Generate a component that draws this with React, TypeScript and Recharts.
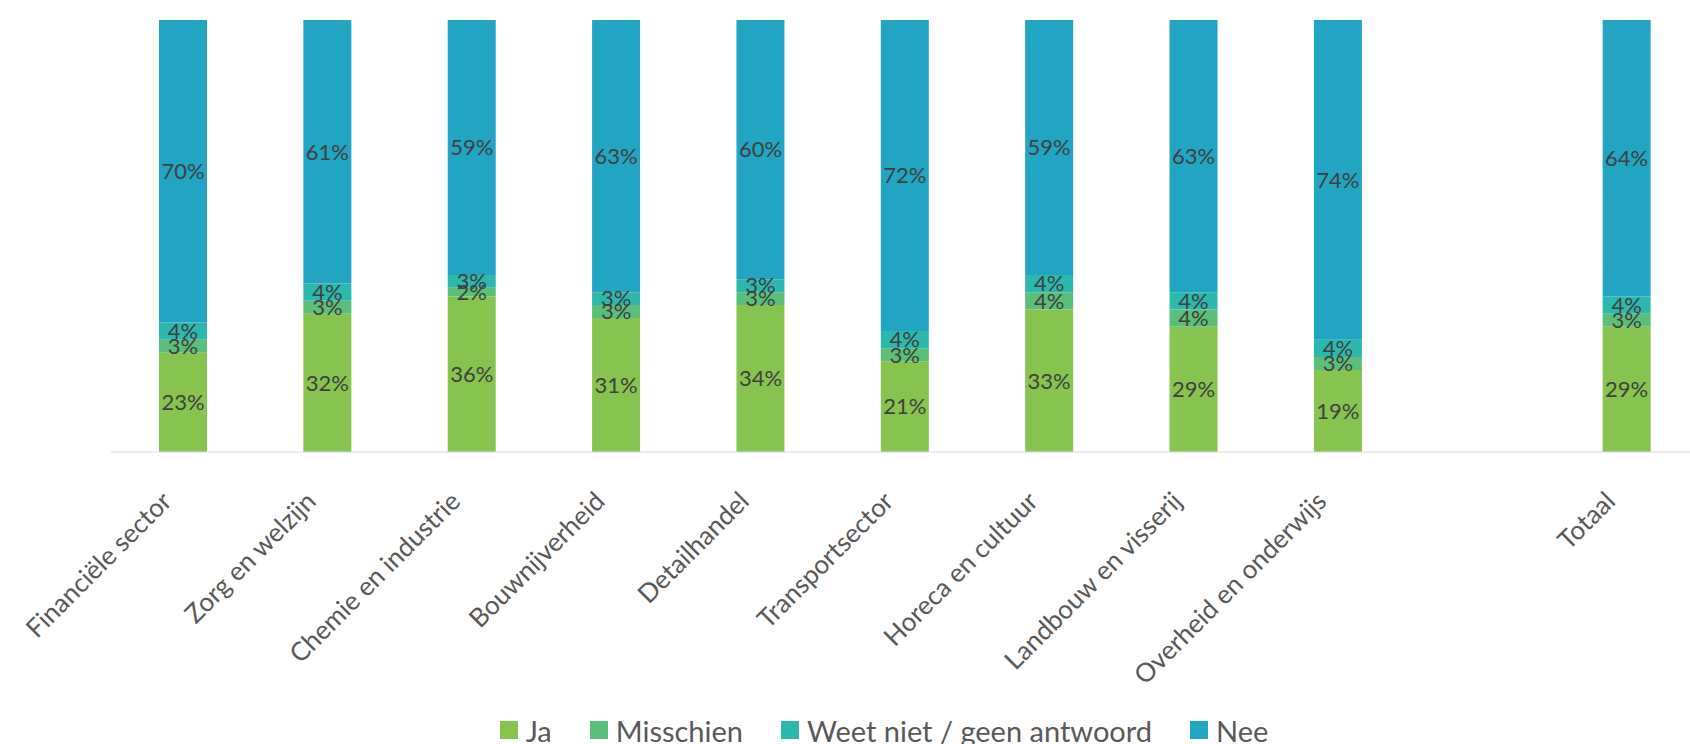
import { BarChart, Bar, XAxis, YAxis, LabelList, Legend } from "recharts";

const categories = [
  "Financiële sector",
  "Zorg en welzijn",
  "Chemie en industrie",
  "Bouwnijverheid",
  "Detailhandel",
  "Transportsector",
  "Horeca en cultuur",
  "Landbouw en visserij",
  "Overheid en onderwijs",
  "",
  "Totaal",
];

const ja = [23, 32, 36, 31, 34, 21, 33, 29, 19, null, 29];
const misschien = [3, 3, 2, 3, 3, 3, 4, 4, 3, null, 3];
const weetNiet = [4, 4, 3, 3, 3, 4, 4, 4, 4, null, 4];
const nee = [70, 61, 59, 63, 60, 72, 59, 63, 74, null, 64];

const SERIES = [
  { key: "ja", name: "Ja", color: "#86c44f" },
  { key: "misschien", name: "Misschien", color: "#5bbf7a" },
  { key: "weetNiet", name: "Weet niet / geen antwoord", color: "#2db8ad" },
  { key: "nee", name: "Nee", color: "#22a5c2" },
];

const data = categories.map((name, i) => ({
  name,
  ja: ja[i],
  misschien: misschien[i],
  weetNiet: weetNiet[i],
  nee: nee[i],
}));

const CHART_W = 1768;
const CHART_H = 760;
const FONT = "Lato, 'Open Sans', sans-serif";

const AngledTick = ({ x, y, payload }: any) => {
  const tx = x - 10;
  const ty = y + 43;
  return (
    <text
      x={tx}
      y={ty}
      transform={`rotate(-45, ${tx}, ${ty})`}
      textAnchor="end"
      fontSize={26}
      fontFamily={FONT}
      fill="#595959"
    >
      {payload.value}
    </text>
  );
};

const renderLegend = () => (
  <div
    style={{
      display: "flex",
      justifyContent: "center",
      alignItems: "center",
      height: 40,
      fontFamily: FONT,
      fontSize: 29,
      color: "#595959",
    }}
  >
    {SERIES.map(s => (
      <span key={s.key} style={{ display: "flex", alignItems: "center", margin: "0 19px" }}>
        <span style={{ width: 18, height: 18, background: s.color, marginRight: 8 }} />
        {s.name}
      </span>
    ))}
  </div>
);

const pct = (v: any) => (v == null ? "" : `${v}%`);

export default function App() {
  return (
    <div
      style={{
        position: "fixed",
        top: 0,
        left: 0,
        width: 1690,
        height: 744,
        overflow: "hidden",
        background: "#fff",
      }}
    >
      <BarChart
        width={CHART_W}
        height={CHART_H}
        data={data}
        margin={{ top: 20, right: 69, left: 111, bottom: 10 }}
        barSize={48}
      >
        <XAxis
          dataKey="name"
          interval={0}
          tickLine={false}
          axisLine={{ stroke: "#d9d9d9" }}
          height={258}
          tick={<AngledTick />}
        />
        <YAxis hide domain={[0, 100]} />
        {SERIES.map(s => (
          <Bar
            key={s.key}
            dataKey={s.key}
            name={s.name}
            stackId="a"
            fill={s.color}
            isAnimationActive={false}
          >
            <LabelList
              dataKey={s.key}
              position="center"
              formatter={pct}
              fill="#404040"
              fontSize={22}
              fontFamily={FONT}
            />
          </Bar>
        ))}
        <Legend
          verticalAlign="bottom"
          content={renderLegend}
          wrapperStyle={{ left: 0, width: CHART_W }}
        />
      </BarChart>
    </div>
  );
}
